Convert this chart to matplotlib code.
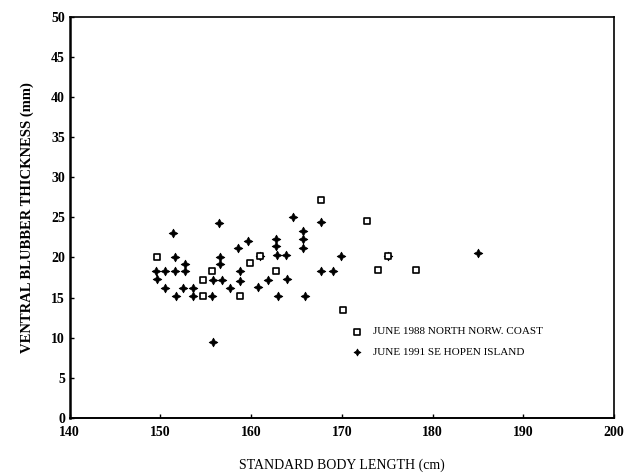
import matplotlib
matplotlib.use("Agg")
import matplotlib.pyplot as plt

# June 1988, North Norwegian coast (open squares)
len_1988 = [149.6, 154.7, 154.7, 155.7, 158.8, 159.9, 161.0, 162.7,
            167.7, 170.1, 172.8, 174.0, 175.1, 178.2]
blub_1988 = [20.0, 17.2, 15.2, 18.3, 15.2, 19.3, 20.2, 18.3,
             27.1, 13.4, 24.5, 18.4, 20.2, 18.4]

# June 1991, SE Hopen Island (filled crosses)
len_1991 = [149.5, 150.5, 151.6, 152.7, 149.6, 150.5, 152.5, 153.6,
            151.4, 151.6, 152.7, 151.7, 153.6, 155.7, 155.8, 155.8,
            156.8, 156.5, 156.6, 156.6, 157.7, 158.6, 159.7, 158.8,
            158.8, 160.8, 161.0, 161.8, 162.7, 162.7, 162.9, 163.8,
            163.0, 164.0, 164.6, 165.7, 165.7, 165.7, 165.9, 167.7,
            167.7, 169.0, 169.9, 175.1, 185.0]
blub_1991 = [18.3, 18.3, 18.3, 18.3, 17.3, 16.2, 16.2, 16.2,
             23.1, 20.1, 19.2, 15.2, 15.2, 15.2, 9.5, 17.2,
             17.2, 24.3, 20.1, 19.2, 16.2, 21.2, 22.1, 18.3,
             17.1, 16.3, 20.2, 17.2, 22.3, 21.4, 20.3, 20.3,
             15.2, 17.3, 25.1, 23.3, 22.3, 21.2, 15.2, 24.4,
             18.3, 18.3, 20.2, 20.2, 20.6]

x_ticks = [140, 150, 160, 170, 180, 190, 200]
y_ticks = [0, 5, 10, 15, 20, 25, 30, 35, 40, 45, 50]

plt.rcParams['font.family'] = ['Liberation Serif', 'DejaVu Serif']

fig = plt.figure(figsize=(6.29, 4.75), dpi=100)
ax = fig.add_axes([0.111, 0.12, 0.865, 0.845])

ax.scatter(len_1991, blub_1991, marker=(4, 1, 0), s=38, color='black',
           linewidths=0.6, label='JUNE 1991 SE HOPEN ISLAND', zorder=3)
ax.scatter(len_1988, blub_1988, marker='s', s=22, facecolors='white',
           edgecolors='black', linewidths=1.2,
           label='JUNE 1988 NORTH NORW. COAST', zorder=4)

ax.set_xlim(140, 200)
ax.set_ylim(0, 50)
ax.set_xticks(x_ticks)
ax.set_yticks(y_ticks)
ax.tick_params(direction='in', length=3, labelsize=10, width=1)
for lab in ax.get_xticklabels() + ax.get_yticklabels():
    lab.set_fontweight('bold')
ax.tick_params(axis='x', pad=6)

ax.spines['left'].set_linewidth(1.8)
ax.spines['bottom'].set_linewidth(1.4)
ax.spines['top'].set_linewidth(1.2)
ax.spines['right'].set_linewidth(1.2)

ax.set_xlabel("STANDARD BODY LENGTH (cm)", fontsize=10, labelpad=14)
ax.set_ylabel("VENTRAL BLUBBER THICKNESS (mm)", fontsize=10.5,
              fontweight='bold', labelpad=12)

handles, labels = ax.get_legend_handles_labels()
ax.legend(handles[::-1], labels[::-1], loc='lower left',
          bbox_to_anchor=(0.5, 0.14), frameon=False, fontsize=8,
          handletextpad=0.4, borderaxespad=0, labelspacing=1.0,
          markerscale=0.8)

plt.savefig("out.png", dpi=100)
plt.close("all")
